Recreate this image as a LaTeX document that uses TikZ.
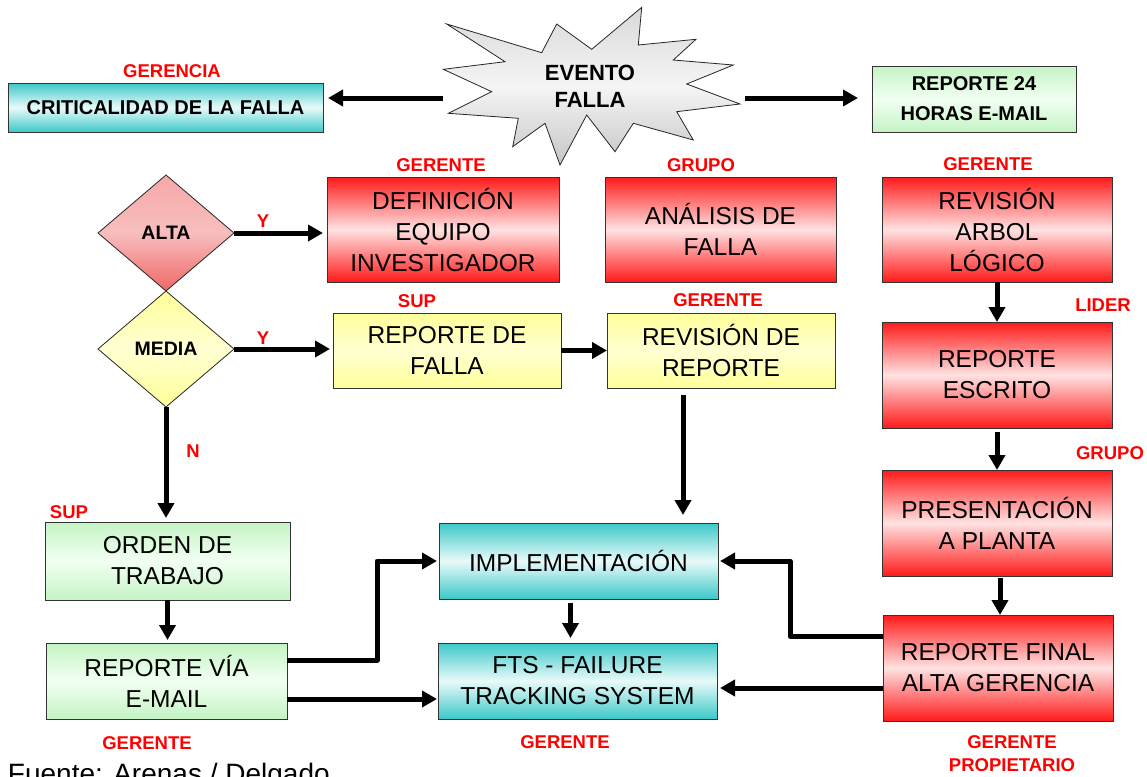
\documentclass[tikz,border=0pt]{standalone}
\usepackage{fontspec}
\setmainfont{Liberation Sans}
\usetikzlibrary{shapes.geometric,arrows.meta,calc}

\definecolor{tagred}{HTML}{FF0000}
\definecolor{boxred}{HTML}{FF1A1A}
\definecolor{boxredl}{HTML}{FFE2E2}
\definecolor{boxyel}{HTML}{FFFF99}
\definecolor{boxyell}{HTML}{FFFFD2}
\definecolor{boxgrn}{HTML}{C4F4C4}
\definecolor{boxgrnl}{HTML}{F2FFF2}
\definecolor{boxcyan}{HTML}{3CC8C8}
\definecolor{boxcyanl}{HTML}{EAFAFA}
\definecolor{altatop}{HTML}{F6A8A8}
\definecolor{altamid}{HTML}{F8BEBE}
\definecolor{altabot}{HTML}{F06666}

\begin{document}
\begin{tikzpicture}[x=1pt,y=-1pt,
  every node/.style={inner sep=0pt, outer sep=0pt},
  boxbase/.style={draw=black!80, line width=1pt, align=center,
    font=\fontsize{24.5}{31}\selectfont},
  sz/.style 2 args={minimum width=#1pt, minimum height=#2pt},
  redbox/.style={boxbase, top color=boxred, bottom color=boxred, middle color=boxredl},
  yelbox/.style={boxbase, top color=boxyel, bottom color=boxyel, middle color=boxyell},
  grnbox/.style={boxbase, top color=boxgrn, bottom color=boxgrn, middle color=boxgrnl},
  cyanbox/.style={boxbase, top color=boxcyan, bottom color=boxcyan, middle color=boxcyanl},
  boldtxt/.style={font=\bfseries\fontsize{20}{30}\selectfont},
  tag/.style={text=tagred, font=\bfseries\fontsize{18.5}{23}\selectfont},
  decision/.style={diamond, draw=black!85, line width=0.8pt, aspect=1.172,
    minimum width=136pt, minimum height=116pt,
    font=\bfseries\fontsize{19.5}{22}\selectfont},
  arr/.style={line width=5pt, line join=round, -{Triangle[length=15pt,width=16pt]}},
]
\useasboundingbox (0,0) rectangle (1147,776);

% --- failure event burst ---
\path[draw=black!85, line width=0.8pt, top color=gray!30, bottom color=gray!45, middle color=gray!8]
  (446.7,24) -- (541.7,52.7) -- (556.7,24) -- (591.7,49.3) -- (641.7,7.3)
  -- (638.3,45) -- (696,39.3) -- (673.3,60) -- (733.3,65) -- (686.7,84)
  -- (740,104) -- (676.7,111.7) -- (693.3,140) -- (633.3,123.3) -- (615,151.7)
  -- (586.7,115) -- (560,165) -- (545,123.3) -- (512.7,146.7) -- (518.3,118.3)
  -- (448.3,113.3) -- (491.7,91.7) -- (443.3,69.3) -- (505,61.7) -- cycle;
\node[boldtxt, font=\bfseries\fontsize{22}{27.5}\selectfont, align=center] (ev) at (590,86.5) {EVENTO\\FALLA};
\coordinate (evL) at (443,98);
\coordinate (evR) at (745,98);

% --- top row ---
\node[cyanbox, sz={315}{49}, boldtxt] (crit) at (165.5,107.5) {CRITICALIDAD DE LA FALLA};
\node[grnbox, sz={204}{66}, boldtxt, align=center] (rep24) at (974,99) {REPORTE 24\\HORAS E-MAIL};
\node[tag] at (172,71) {GERENCIA};

\draw[arr, shorten >=5pt] (evL) -- (crit.east |- evL);
\draw[arr, shorten >=14pt] (evR) -- (rep24.west |- evR);

% --- decisions ---
\node[decision, top color=altatop, bottom color=altabot, middle color=altamid] (alta) at (166,233) {ALTA};
\node[decision, top color=boxyel, bottom color=boxyel, middle color=boxyell] (media) at (166,349) {MEDIA};

% --- second row ---
\node[redbox, sz={232}{105}] (def) at (443,229.5) {DEFINICIÓN\\EQUIPO\\INVESTIGADOR};
\node[redbox, sz={231}{105}] (ana) at (720.5,229.5) {ANÁLISIS DE\\FALLA};
\node[redbox, sz={230}{105}] (rev) at (997,229.5) {REVISIÓN\\ARBOL\\LÓGICO};
\node[tag] at (441,165) {GERENTE};
\node[tag] at (701,165) {GRUPO};
\node[tag] at (988,164) {GERENTE};

% --- third row ---
\node[yelbox, sz={228}{75}] (repf) at (447,350.5) {REPORTE DE\\FALLA};
\node[yelbox, sz={228}{75}] (revrep) at (721,350.5) {REVISIÓN DE\\REPORTE};
\node[tag] at (417,301) {SUP};
\node[tag] at (718,300) {GERENTE};

% --- right column ---
\node[redbox, sz={230}{106}] (esc) at (997,375) {REPORTE\\ESCRITO};
\node[redbox, sz={230}{106}] (pres) at (997,523) {PRESENTACIÓN\\A PLANTA};
\node[redbox, sz={230}{106}] (fin) at (998,668) {REPORTE FINAL\\ALTA GERENCIA};
\node[tag] at (1103,305) {LIDER};
\node[tag] at (1110,453) {GRUPO};
\node[tag, align=center] at (1012,753.5) {GERENTE\\PROPIETARIO};

% --- lower left ---
\node[grnbox, sz={245}{78}] (orden) at (167.5,561) {ORDEN DE\\TRABAJO};
\node[grnbox, sz={241}{76}] (mail) at (166.5,681) {REPORTE VÍA\\E-MAIL};
\node[tag] at (69,512) {SUP};
\node[tag] at (147,743) {GERENTE};
\node[tag] at (193,451) {N};

% --- lower middle ---
\node[cyanbox, sz={279}{76}] (impl) at (578.5,561) {IMPLEMENTACIÓN};
\node[cyanbox, sz={279}{76}] (fts) at (577.5,681) {FTS - FAILURE\\TRACKING SYSTEM};
\node[tag] at (565,742) {GERENTE};

% --- connectors ---
\draw[arr, shorten >=4pt] (alta.east) -- (def.west |- alta.east);
\node[tag] at (263,221) {Y};
\draw[arr, shorten >=3pt] (media.east) -- (repf.west |- media.east);
\node[tag] at (263,338) {Y};
\draw[arr] (repf.east) -- (revrep.west |- repf.east);

\coordinate (rr) at ([xshift=-38pt]revrep.south);
\draw[arr, shorten <=7pt, shorten >=8pt] (rr) -- (rr |- impl.north);

\draw[arr, shorten >=4pt] (media.south) -- (media.south |- orden.north);
\draw[arr, shorten >=3pt] (orden.south) -- (orden.south |- mail.north);

\draw[arr] (rev.south) -- (rev.south |- esc.north);
\draw[arr, shorten <=4pt] (esc.south) -- (esc.south |- pres.north);
\coordinate (pp) at ([xshift=3pt]pres.south);
\draw[arr, shorten <=2pt] (pp) -- (pp |- fin.north);

\coordinate (im) at ([xshift=-8pt]impl.south);
\draw[arr, shorten <=4pt, shorten >=5pt] (im) -- (im |- fts.north);

\coordinate (m1) at ([yshift=21pt]mail.east);
\coordinate (jm) at (377,0);
\draw[arr, shorten >=2pt] (m1) -- (m1 -| jm) |- (impl.west);
\coordinate (m2) at ([yshift=-18pt]mail.east);
\draw[arr, shorten >=1pt] (m2) -- (m2 -| fts.west);

\coordinate (f1) at ([yshift=32pt]fin.west);
\coordinate (jf) at (790,0);
\draw[arr, shorten >=2pt] (f1) -- (f1 -| jf) |- (impl.east);
\coordinate (f2) at ([yshift=-20pt]fin.west);
\draw[arr, shorten >=3pt] (f2) -- (f2 -| fts.east);

% --- source line, running off the lower edge ---
\node[anchor=base west, font=\fontsize{28}{32}\selectfont] (src) at (8,783) {Fuente: Arenas / Delgado};
\end{tikzpicture}
\end{document}
